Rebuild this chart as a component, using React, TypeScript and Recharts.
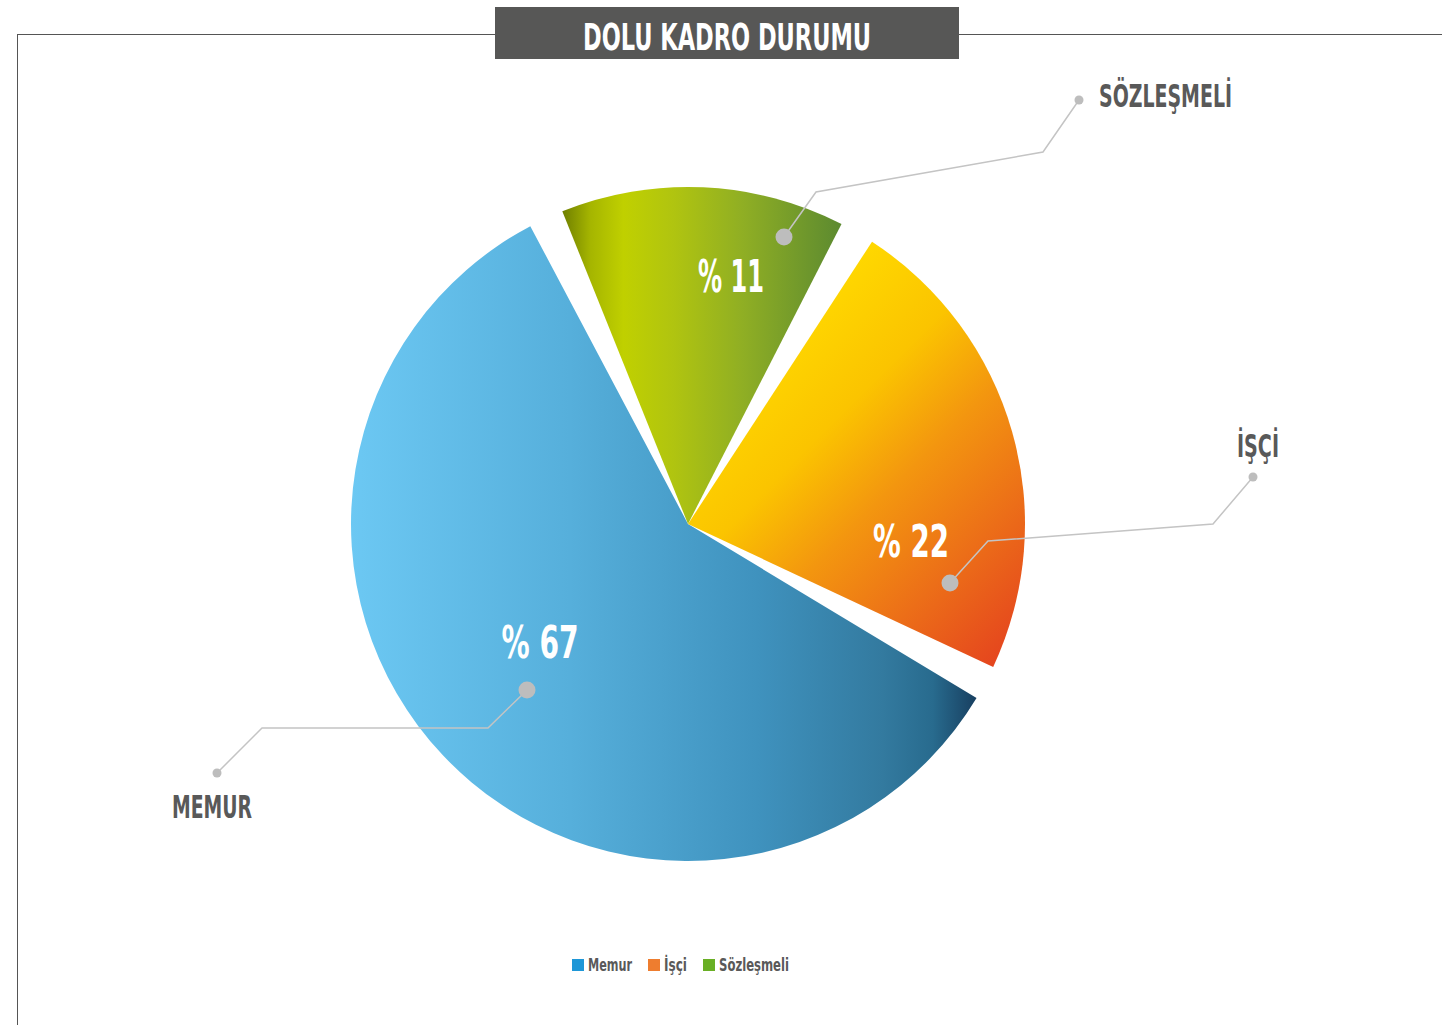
import React from "react";
import { PieChart, Pie, Cell, Legend } from "recharts";

// ---- data ----
const categories = ["Memur", "İşçi", "Sözleşmeli"];
const calloutNames = ["MEMUR", "İŞÇİ", "SÖZLEŞMELİ"];
const printedPercents = [67, 22, 11];
// arc share of each slice as drawn (degrees of the circle, gaps excluded)
const arcShares = [211, 82, 49];
const legendColors = ["#1E97D7", "#EE7D2F", "#69AF24"];
const gradientIds = ["gMemur", "gIsci", "gSoz"];

const chartData = categories.map((c, i) => ({ name: c, value: arcShares[i] }));

const W = 1442;
const H = 1025;
const CX = 688;
const CY = 524;
const R = 337;
const FONT = "'Liberation Sans Narrow', 'DejaVu Sans Condensed', 'Roboto Condensed', 'Open Sans', sans-serif";

// callout layout (offsets from pie centre)
const callouts = [
  {
    pct: [-148, 118], pctW: 77,
    path: [[-161, 166], [-200, 204], [-426, 204], [-471, 249]],
    name: [-476, 294], nameW: 80, anchor: "middle",
  },
  {
    pct: [223, 17], pctW: 76,
    path: [[262, 59], [300, 17], [525, 0], [565, -47]],
    name: [549, -67], nameW: 42, anchor: "start",
  },
  {
    pct: [43, -248], pctW: 66,
    path: [[96, -287], [128, -332], [355, -372], [391, -424]],
    name: [411, -417], nameW: 133, anchor: "start",
  },
];

// legend layout
const legendTextWidths = [44, 23, 70];
const LEGEND_X0 = 572;
const LEGEND_Y = 959;

const renderLabel = (props: any) => {
  const { cx, cy, index } = props;
  const c = callouts[index];
  if (!c) return null;
  const pts = c.path.map(([dx, dy]) => `${cx + dx},${cy + dy}`).join(" ");
  const first = c.path[0];
  const last = c.path[c.path.length - 1];
  return (
    <g key={`lbl-${index}`}>
      <text
        x={cx + c.pct[0]}
        y={cy + c.pct[1]}
        fill="#FFFFFF"
        fontFamily={FONT}
        fontWeight={700}
        fontSize={44}
        textAnchor="middle"
        dominantBaseline="central"
        textLength={c.pctW}
        lengthAdjust="spacingAndGlyphs"
      >
        {`% ${printedPercents[index]}`}
      </text>
      <polyline points={pts} fill="none" stroke="#C4C4C4" strokeWidth={1.5} />
      <circle cx={cx + first[0]} cy={cy + first[1]} r={8.5} fill="#BDBDBD" />
      <circle cx={cx + last[0]} cy={cy + last[1]} r={4.5} fill="#BDBDBD" />
      <text
        x={cx + c.name[0]}
        y={cy + c.name[1]}
        fill="#595959"
        fontFamily={FONT}
        fontWeight={700}
        fontSize={32}
        textAnchor={c.anchor as any}
        textLength={c.nameW}
        lengthAdjust="spacingAndGlyphs"
      >
        {calloutNames[index]}
      </text>
    </g>
  );
};

const LegendContent = () => {
  let x = LEGEND_X0;
  const items = categories.map((c, i) => {
    const sx = x;
    const tx = sx + 16;
    x = tx + legendTextWidths[i] + 16;
    return (
      <g key={c}>
        <rect x={sx} y={LEGEND_Y} width={12} height={12} fill={legendColors[i]} />
        <text
          x={tx}
          y={LEGEND_Y + 12}
          fill="#595959"
          fontFamily={FONT}
          fontWeight={700}
          fontSize={17}
          textLength={legendTextWidths[i]}
          lengthAdjust="spacingAndGlyphs"
        >
          {c}
        </text>
      </g>
    );
  });
  return (
    <svg width={W} height={40} style={{ position: "absolute", left: 0, top: 0, overflow: "visible" }}>
      {items}
    </svg>
  );
};

export default function App() {
  return (
    <div
      style={{
        position: "absolute",
        left: 0,
        top: 0,
        width: W,
        height: H,
        background: "#FFFFFF",
        overflow: "hidden",
      }}
    >
      <svg width={0} height={0} style={{ position: "absolute" }}>
        <defs>
          <linearGradient id="gMemur" x1="0" y1="0" x2="1" y2="0">
            <stop offset="0" stopColor="#6CC8F3" />
            <stop offset="0.35" stopColor="#56AFDB" />
            <stop offset="0.65" stopColor="#3F92BE" />
            <stop offset="0.85" stopColor="#337A9F" />
            <stop offset="0.93" stopColor="#286B8E" />
            <stop offset="1" stopColor="#183F60" />
          </linearGradient>
          <linearGradient id="gIsci" x1="0.1" y1="0" x2="0.9" y2="1">
            <stop offset="0" stopColor="#E9C200" />
            <stop offset="0.2" stopColor="#FFD900" />
            <stop offset="0.42" stopColor="#FBC400" />
            <stop offset="0.6" stopColor="#F3960F" />
            <stop offset="0.8" stopColor="#EC6E18" />
            <stop offset="1" stopColor="#E5461E" />
          </linearGradient>
          <linearGradient id="gSoz" x1="0" y1="0" x2="1" y2="0">
            <stop offset="0" stopColor="#6F7F00" />
            <stop offset="0.1" stopColor="#A5B500" />
            <stop offset="0.22" stopColor="#C0D000" />
            <stop offset="0.4" stopColor="#B0C410" />
            <stop offset="0.65" stopColor="#8FAE24" />
            <stop offset="1" stopColor="#5C8A30" />
          </linearGradient>
        </defs>
      </svg>

      {/* frame lines */}
      <div style={{ position: "absolute", left: 17, top: 34, width: W - 17, height: 1, background: "#555" }} />
      <div style={{ position: "absolute", left: 17, top: 34, width: 1, height: H - 34, background: "#555" }} />

      {/* title box */}
      <div
        style={{
          position: "absolute",
          left: 495,
          top: 7,
          width: 464,
          height: 52,
          background: "#575756",
        }}
      >
        <svg width={464} height={52} style={{ display: "block", overflow: "visible" }}>
          <text
            x={232}
            y={43}
            fill="#FFFFFF"
            fontFamily={FONT}
            fontWeight={700}
            fontSize={38}
            textAnchor="middle"
            textLength={288}
            lengthAdjust="spacingAndGlyphs"
          >
            DOLU KADRO DURUMU
          </text>
        </svg>
      </div>

      <div style={{ position: "absolute", left: 0, top: 0 }}>
        <PieChart width={W} height={H} margin={{ top: 0, right: 0, bottom: 0, left: 0 }}>
          <Pie
            data={chartData}
            dataKey="value"
            nameKey="name"
            cx={CX}
            cy={CY}
            outerRadius={R}
            startAngle={117.9}
            endAngle={477.9}
            paddingAngle={6}
            stroke="none"
            label={renderLabel}
            labelLine={false}
            isAnimationActive={false}
          >
            {chartData.map((d, i) => (
              <Cell key={d.name} fill={`url(#${gradientIds[i]})`} />
            ))}
          </Pie>
          <Legend
            content={<LegendContent />}
            wrapperStyle={{ position: "absolute", top: 0, left: 0, width: W, height: 0 }}
          />
        </PieChart>
      </div>
    </div>
  );
}
